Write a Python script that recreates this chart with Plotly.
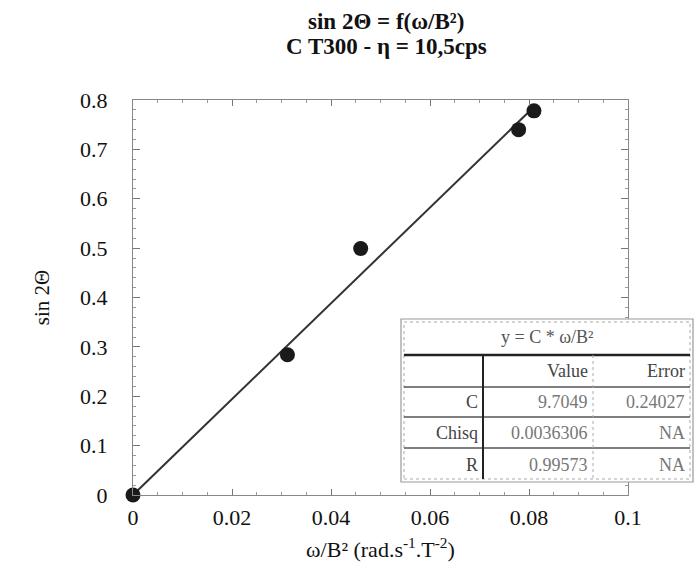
import plotly.graph_objects as go

# data
x_vals = [0.0, 0.0312, 0.0460, 0.0779, 0.0810]
y_vals = [0.0, 0.284, 0.499, 0.740, 0.778]
fit_C = 9.7049
fit_x = [0.0, 0.0815]
fit_y = [fit_C * v for v in fit_x]

x_ticks = [0, 0.02, 0.04, 0.06, 0.08, 0.1]
x_ticktext = ["0", "0.02", "0.04", "0.06", "0.08", "0.1"]
y_ticks = [0, 0.1, 0.2, 0.3, 0.4, 0.5, 0.6, 0.7, 0.8]
y_ticktext = ["0", "0.1", "0.2", "0.3", "0.4", "0.5", "0.6", "0.7", "0.8"]

table_title = "y = C * ω/B²"
table_header = ["", "Value", "Error"]
table_rows = [["C", "9.7049", "0.24027"],
              ["Chisq", "0.0036306", "NA"],
              ["R", "0.99573", "NA"]]

SERIF = "Liberation Serif, Times New Roman, serif"

fig = go.Figure()
fig.add_trace(go.Scatter(x=fit_x, y=fit_y, mode="lines",
                         line=dict(color="#333333", width=2), showlegend=False, hoverinfo="skip"))
fig.add_trace(go.Scatter(x=x_vals, y=y_vals, mode="markers",
                         marker=dict(color="#1a1a1a", size=15), showlegend=False, cliponaxis=False))

# plot area pixel geometry
L, R, T, B = 133, 628, 100, 495
W, H = 700, 572
pw, ph = R - L, B - T

def px(x):
    return (x - L) / pw

def py(y):
    return (B - y) / ph

shapes = []
ann = []
# table geometry (pixels)
tx0, tx1, ty0, ty1 = 401, 693, 319, 482
row_lines = [355, 387, 417, 448]
col_lines = [483, 593]

shapes.append(dict(type="rect", xref="paper", yref="paper", x0=px(tx0), x1=px(tx1), y0=py(ty1), y1=py(ty0),
                   line=dict(color="#999999", width=1.2), fillcolor="white", layer="above"))
shapes.append(dict(type="rect", xref="paper", yref="paper", x0=px(tx0 + 3), x1=px(tx1 - 3), y0=py(ty1 - 3), y1=py(ty0 + 3),
                   line=dict(color="#aaaaaa", width=1, dash="dot"), layer="above"))
for i, ry in enumerate(row_lines):
    shapes.append(dict(type="line", xref="paper", yref="paper", x0=px(tx0 + 3), x1=px(tx1 - 3), y0=py(ry), y1=py(ry),
                       line=dict(color="#222222" if i == 0 else "#555555", width=2.5 if i == 0 else 1.5), layer="above"))
shapes.append(dict(type="line", xref="paper", yref="paper", x0=px(col_lines[0]), x1=px(col_lines[0]),
                   y0=py(row_lines[0]), y1=py(ty1 - 3), line=dict(color="#222222", width=2), layer="above"))
shapes.append(dict(type="line", xref="paper", yref="paper", x0=px(col_lines[1]), x1=px(col_lines[1]),
                   y0=py(row_lines[0]), y1=py(ty1 - 3), line=dict(color="#aaaaaa", width=1, dash="dot"), layer="above"))

ann.append(dict(text=table_title, xref="paper", yref="paper", x=px((tx0 + tx1) / 2), y=py((ty0 + row_lines[0]) / 2),
                showarrow=False, font=dict(family=SERIF, size=18, color="#555555"), xanchor="center", yanchor="middle"))
row_bounds = [row_lines[0], row_lines[1], row_lines[2], row_lines[3], ty1]
all_rows = [table_header] + table_rows
col_right = [col_lines[0] - 3, col_lines[1] - 3, tx1 - 6]
for r, row in enumerate(all_rows):
    yc = (row_bounds[r] + row_bounds[r + 1]) / 2
    for c, cell in enumerate(row):
        if not cell:
            continue
        col = "#444444" if (c == 0 or r == 0) else "#777777"
        ann.append(dict(text=cell, xref="paper", yref="paper", x=px(col_right[c]), y=py(yc),
                        showarrow=False, xanchor="right", yanchor="middle",
                        font=dict(family=SERIF, size=18, color=col)))

# titles
ann.append(dict(text="<b>sin 2Θ = f(ω/B²)</b>", xref="paper", yref="paper", x=px(386), y=py(21),
                showarrow=False, xanchor="center", yanchor="middle", font=dict(family=SERIF, size=23, color="#111111")))
ann.append(dict(text="<b>C T300 - η = 10,5cps</b>", xref="paper", yref="paper", x=px(386), y=py(47),
                showarrow=False, xanchor="center", yanchor="middle", font=dict(family=SERIF, size=23, color="#111111")))

axis_common = dict(showline=True, linecolor="#888888", linewidth=1, mirror="allticks",
                   ticks="inside", tickcolor="#777777", showgrid=False, zeroline=False,
                   tickfont=dict(family=SERIF, size=22, color="#111111"))

fig.update_layout(
    width=W, height=H,
    margin=dict(l=L, r=W - R, t=T, b=H - B),
    plot_bgcolor="white", paper_bgcolor="white",
    shapes=shapes, annotations=ann,
    xaxis=dict(range=[0, 0.1], tickvals=x_ticks, ticktext=x_ticktext, ticklen=6,
               minor=dict(dtick=0.005, ticks="inside", ticklen=3, tickcolor="#999999"),
               ticklabelstandoff=3,
               title=dict(text="ω/B² (rad.s<sup>-1</sup>.T<sup>-2</sup>)", standoff=12,
                          font=dict(family=SERIF, size=22, color="#111111")),
               **axis_common),
    yaxis=dict(range=[0, 0.8], tickvals=y_ticks, ticktext=y_ticktext, ticklen=7,
               minor=dict(dtick=0.02, ticks="inside", ticklen=3, tickcolor="#999999"),
               ticklabelstandoff=20,
               title=dict(text="sin 2Θ", standoff=24, font=dict(family=SERIF, size=21, color="#111111")),
               **axis_common),
)

fig.write_html("out.html", config={"displayModeBar": False},
               post_script="document.body.style.margin='0';document.body.style.overflow='hidden';")
